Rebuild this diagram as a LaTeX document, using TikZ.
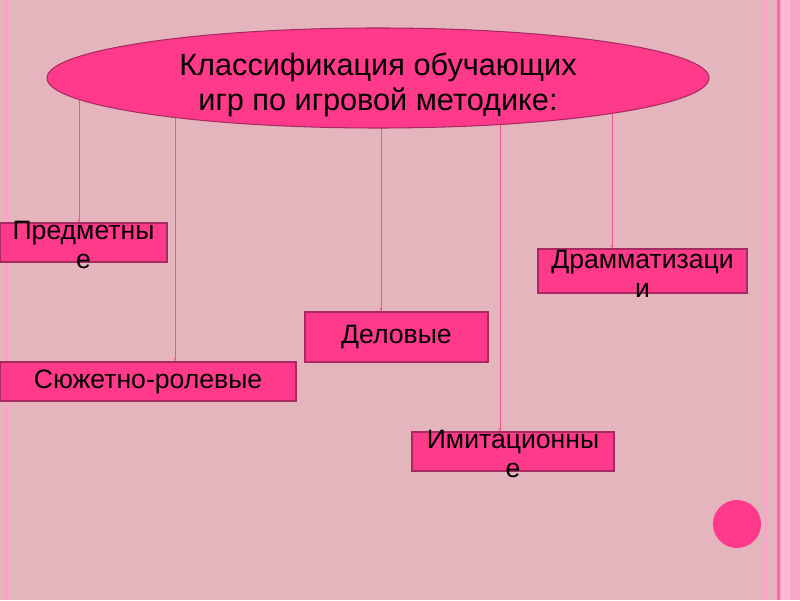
\documentclass[tikz,border=0pt]{standalone}
\usepackage{fontspec}
\setmainfont{Liberation Sans}
\usetikzlibrary{shapes.geometric,arrows.meta}
\pgfdeclarelayer{bg}
\pgfsetlayers{bg,main}
\definecolor{paper}{HTML}{E4B5BD}
\definecolor{rose}{HTML}{FF3A8A}
\definecolor{roseline}{HTML}{A82A62}
\definecolor{wire}{HTML}{EC5492}
\definecolor{stripe}{HTML}{F8A6C6}
\definecolor{stripelight}{HTML}{FBB6D0}
\definecolor{stripedark}{HTML}{E474A4}
\tikzset{
    every node/.style={inner sep=0mm, draw=roseline, fill=rose, line width=0.9pt, font=\fontsize{22.7}{25}\selectfont}
}
\tikzset{every label/.style={shape=rectangle, draw=none, fill=none, align=center, inner sep=0mm}}
\tikzset{conn/.style={wire, line width=0.7pt, -{Stealth[length=3pt,width=2.5pt]}}}

\begin{document}
\begin{tikzpicture}
        \useasboundingbox (0,0) rectangle (24,18);
        \node (v0) [ellipse, minimum width=19.86cm, minimum height=3cm, label={[font=\fontsize{26.2}{30}\selectfont, yshift=-0.2cm]center:{Классификация обучающих\\игр по игровой методике:}}] at (11.340000cm, 15.660000cm) {};
        \node (v1) [minimum width=5.01cm, minimum height=1.17cm, label={[yshift=-0.08cm]center:{Предметны\\е}}] at (2.505000cm, 10.725000cm) {};
        \node (v2) [minimum width=8.88cm, minimum height=1.17cm] at (4.440000cm, 6.555000cm) {Сюжетно-ролевые};
        \node (v3) [minimum width=5.49cm, minimum height=1.50cm] at (11.895000cm, 7.890000cm) {Деловые};
        \node (v4) [minimum width=6.06cm, minimum height=1.17cm, label={[yshift=-0.08cm]center:{Имитационны\\е}}] at (15.390000cm, 4.455000cm) {};
        \node (v5) [minimum width=6.27cm, minimum height=1.32cm, label={[yshift=-0.08cm]center:{Драмматизаци\\и}}] at (19.275000cm, 9.870000cm) {};
        \node (v6) [circle, draw=none, minimum size=1.44cm] at (22.110000cm, 2.280000cm) {};
        \coordinate (c1) at (2.370000cm, 15.660000cm);
        \coordinate (c2) at (5.250000cm, 15.660000cm);
        \coordinate (c3) at (11.430000cm, 15.660000cm);
        \coordinate (c4) at (15.000000cm, 15.660000cm);
        \coordinate (c5) at (18.360000cm, 15.660000cm);
        \begin{pgfonlayer}{bg}
                \fill [paper] (0,0) rectangle (24,18);
                \fill [stripe] (0.12,0) rectangle (0.27,18);
                \fill [stripe] (22.92,0) rectangle (23.01,18);
                \fill [stripe] (23.28,0) rectangle (24,18);
                \fill [stripelight] (23.43,0) rectangle (23.70,18);
                \fill [stripedark] (23.31,0) rectangle (23.40,18);
                \draw (c1) edge [conn] (c1 |- v1.north);
                \draw (c2) edge [conn] (c2 |- v2.north);
                \draw (c3) edge [conn] (c3 |- v3.north);
                \draw (c4) edge [conn] (c4 |- v4.north);
                \draw (c5) edge [conn] (c5 |- v5.north);
        \end{pgfonlayer}
\end{tikzpicture}
\end{document}
